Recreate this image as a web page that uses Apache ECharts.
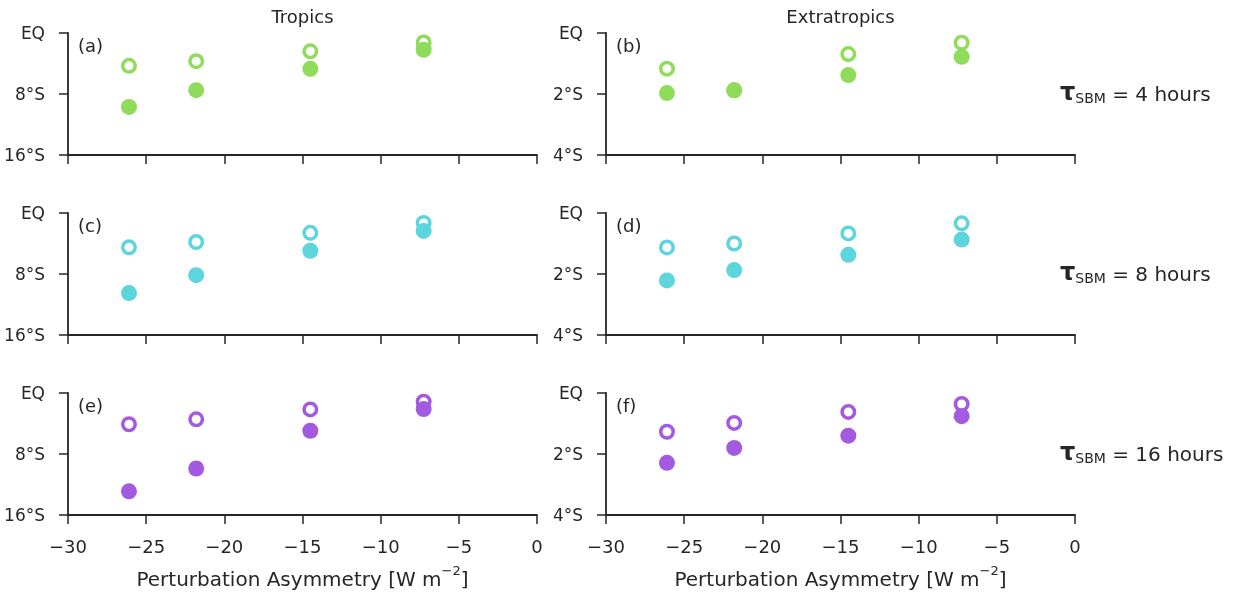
<!DOCTYPE html>
<html>
<head>
<meta charset="utf-8">
<script src="https://cdn.jsdelivr.net/npm/echarts@6/dist/echarts.min.js"></script>
<style>
  html, body { margin: 0; padding: 0; background: #fff; }
  #chart { width: 1238px; height: 592px; }
</style>
</head>
<body>
<div id="chart"></div>
<script>
// Perturbation asymmetry of each experiment [W m^-2]
const asymmetry = [-26.1, -21.8, -14.5, -7.25];

// Shift of the tropical / extratropical response (degrees south), hollow and solid markers
const tropicsOpen4h   = [4.3, 3.7, 2.4, 1.25];
const tropicsFilled4h = [9.7, 7.5, 4.7, 2.2];
const extraOpen4h     = [1.17, 1.88, 0.69, 0.32];
const extraFilled4h   = [1.97, 1.88, 1.38, 0.78];

const tropicsOpen8h   = [4.5, 3.8, 2.6, 1.3];
const tropicsFilled8h = [10.5, 8.15, 4.95, 2.35];
const extraOpen8h     = [1.13, 1.0, 0.67, 0.34];
const extraFilled8h   = [2.21, 1.87, 1.37, 0.87];

const tropicsOpen16h   = [4.1, 3.45, 2.15, 1.15];
const tropicsFilled16h = [12.9, 9.9, 4.95, 2.1];
const extraOpen16h     = [1.27, 0.98, 0.62, 0.36];
const extraFilled16h   = [2.29, 1.8, 1.4, 0.76];

const tauHours = [4, 8, 16];
const panelLetters = ['(a)', '(b)', '(c)', '(d)', '(e)', '(f)'];
const columnTitles = ['Tropics', 'Extratropics'];
const rowColors = ['#8fdc5a', '#5cd5dc', '#a45ae0'];

const rows = [
  { trop: [tropicsOpen4h, tropicsFilled4h], extra: [extraOpen4h, extraFilled4h] },
  { trop: [tropicsOpen8h, tropicsFilled8h], extra: [extraOpen8h, extraFilled8h] },
  { trop: [tropicsOpen16h, tropicsFilled16h], extra: [extraOpen16h, extraFilled16h] }
];

const FONT = '"DejaVu Sans", sans-serif';
const INK = '#262626';
const colLeft = [68, 606];
const plotW = 469, plotH = 122;
const rowTop = [33, 213, 393];

const grids = [], xAxes = [], yAxes = [], series = [], graphics = [];

rows.forEach((row, r) => {
  [row.trop, row.extra].forEach((pair, c) => {
    const idx = r * 2 + c;
    const isBottom = r === rows.length - 1;
    const yMax = c === 0 ? 16 : 4;
    grids.push({ left: colLeft[c], top: rowTop[r], width: plotW, height: plotH, containLabel: false });
    xAxes.push({
      type: 'value', gridIndex: idx, min: -30, max: 0, interval: 5,
      axisLine: { onZero: false, lineStyle: { color: INK, width: 1.8 } },
      axisTick: { length: 9, lineStyle: { color: INK, width: 1.5 } },
      axisLabel: {
        show: isBottom, color: INK, fontFamily: FONT, fontSize: 18, margin: 24,
        formatter: v => (v < 0 ? '\u2212' + Math.abs(v) : String(v))
      },
      splitLine: { show: false },
      name: isBottom ? '{a|Perturbation Asymmetry [W m}{b|\u22122}{a|]}' : '',
      nameLocation: 'middle', nameGap: 50,
      nameTextStyle: {
        color: INK, fontFamily: FONT,
        rich: {
          a: { fontSize: 20, fontFamily: FONT, color: INK, lineHeight: 26, verticalAlign: 'bottom' },
          b: { fontSize: 13, fontFamily: FONT, color: INK, lineHeight: 15, verticalAlign: 'top' }
        }
      }
    });
    yAxes.push({
      type: 'value', gridIndex: idx, inverse: true, min: 0, max: yMax, interval: yMax / 2,
      axisLine: { show: true, onZero: false, lineStyle: { color: INK, width: 1.8 } },
      axisTick: { show: true, length: 9, lineStyle: { color: INK, width: 1.5 } },
      axisLabel: {
        color: INK, fontFamily: FONT, fontSize: 17, margin: 23,
        formatter: v => '{v|' + (v === 0 ? 'EQ' : v + '\u00b0S') + '}',
        rich: { v: { fontSize: 17, fontFamily: FONT, color: INK, padding: [4, 0, 0, 0] } }
      },
      splitLine: { show: false }
    });
    const col = rowColors[r];
    series.push({
      type: 'scatter', xAxisIndex: idx, yAxisIndex: idx, z: 2,
      symbol: 'circle', symbolSize: 12.5,
      itemStyle: { color: '#fff', borderColor: col, borderWidth: 3.5, opacity: 1 },
      emphasis: { disabled: true },
      data: asymmetry.map((x, k) => [x, pair[0][k]])
    });
    series.push({
      type: 'scatter', xAxisIndex: idx, yAxisIndex: idx, z: 3,
      symbol: 'circle', symbolSize: 16,
      itemStyle: { color: col, opacity: 1 },
      emphasis: { disabled: true },
      data: asymmetry.map((x, k) => [x, pair[1][k]])
    });
    graphics.push({
      type: 'text', x: colLeft[c] + 10, y: rowTop[r] + 14,
      style: { text: panelLetters[idx], fill: INK, font: '18px ' + FONT, align: 'left', verticalAlign: 'middle' }
    });
  });
  graphics.push({
    type: 'text', x: 1060, y: rowTop[r] + plotH / 2 - 2,
    style: {
      text: '{t|\u03c4}{s|SBM}{n| = ' + tauHours[r] + ' hours}',
      fill: INK, align: 'left', verticalAlign: 'middle',
      rich: {
        t: { fontSize: 24, fontFamily: FONT, fontWeight: 'bold', fill: INK, lineHeight: 28, verticalAlign: 'bottom' },
        s: { fontSize: 14, fontFamily: FONT, fill: INK, lineHeight: 14, verticalAlign: 'bottom' },
        n: { fontSize: 20, fontFamily: FONT, fill: INK, lineHeight: 28, verticalAlign: 'bottom' }
      }
    }
  });
});

columnTitles.forEach((t, c) => {
  graphics.push({
    type: 'text', x: colLeft[c] + plotW / 2, y: 18,
    style: { text: t, fill: INK, font: '18px ' + FONT, align: 'center', verticalAlign: 'middle' }
  });
});

const chart = echarts.init(document.getElementById('chart'), null, { renderer: 'canvas' });
chart.setOption({
  animation: false,
  backgroundColor: '#fff',
  grid: grids,
  xAxis: xAxes,
  yAxis: yAxes,
  series: series,
  graphic: graphics
});
</script>
</body>
</html>
